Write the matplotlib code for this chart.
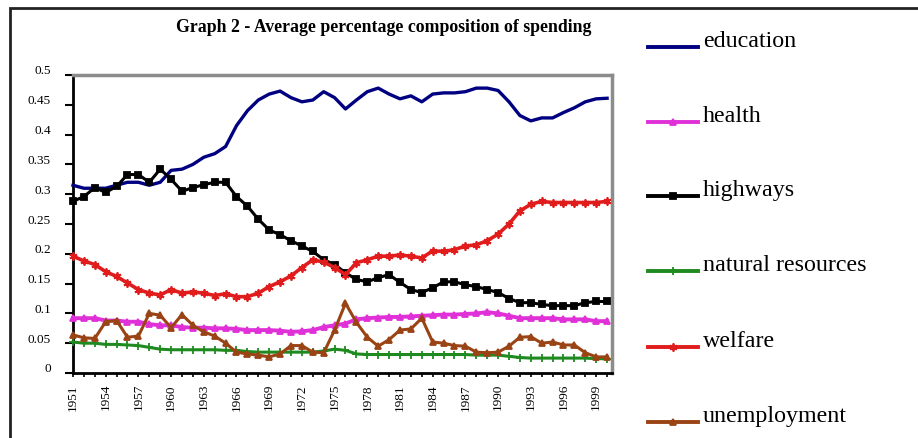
import matplotlib.pyplot as plt
from matplotlib.lines import Line2D
from matplotlib.patches import Rectangle
from matplotlib.transforms import ScaledTranslation

plt.rcParams['font.family'] = ['Liberation Serif', 'DejaVu Serif']

# share of spending by category, 1951-2000
years = list(range(1951, 2001))

education = [0.315, 0.31, 0.31, 0.31, 0.315, 0.32, 0.32, 0.315, 0.32, 0.34,
             0.342, 0.35, 0.362, 0.368, 0.38, 0.415, 0.44, 0.458, 0.468, 0.473,
             0.462, 0.455, 0.458, 0.472, 0.462, 0.443, 0.458, 0.472, 0.478, 0.468,
             0.46, 0.465, 0.455, 0.468, 0.47, 0.47, 0.472, 0.478, 0.478, 0.474,
             0.455, 0.432, 0.423, 0.428, 0.428, 0.437, 0.445, 0.455, 0.46, 0.461]

health = [0.092, 0.092, 0.092, 0.088, 0.088, 0.086, 0.086, 0.082, 0.08, 0.08,
          0.077, 0.076, 0.076, 0.075, 0.075, 0.074, 0.072, 0.072, 0.072, 0.071,
          0.069, 0.07, 0.072, 0.077, 0.08, 0.083, 0.09, 0.092, 0.093, 0.094,
          0.094, 0.095, 0.096, 0.097, 0.098, 0.098, 0.099, 0.1, 0.102, 0.1,
          0.096, 0.092, 0.092, 0.092, 0.092, 0.09, 0.09, 0.09, 0.087, 0.087]

highways = [0.288, 0.296, 0.311, 0.303, 0.313, 0.333, 0.333, 0.32, 0.342, 0.325,
            0.305, 0.311, 0.316, 0.32, 0.32, 0.296, 0.28, 0.258, 0.24, 0.232,
            0.222, 0.213, 0.204, 0.19, 0.182, 0.168, 0.157, 0.153, 0.16, 0.165,
            0.152, 0.14, 0.135, 0.143, 0.153, 0.153, 0.148, 0.145, 0.14, 0.135,
            0.125, 0.118, 0.118, 0.115, 0.113, 0.113, 0.113, 0.118, 0.12, 0.12]

natural_resources = [0.052, 0.05, 0.05, 0.048, 0.048, 0.047, 0.046, 0.043, 0.04, 0.039,
                     0.039, 0.039, 0.039, 0.039, 0.038, 0.038, 0.036, 0.035, 0.035, 0.035,
                     0.035, 0.035, 0.035, 0.037, 0.04, 0.038, 0.032, 0.031, 0.031, 0.031,
                     0.031, 0.031, 0.031, 0.031, 0.031, 0.031, 0.031, 0.03, 0.03, 0.03,
                     0.028, 0.026, 0.025, 0.025, 0.025, 0.025, 0.025, 0.025, 0.024, 0.024]

welfare = [0.196, 0.188, 0.182, 0.17, 0.162, 0.151, 0.14, 0.134, 0.131, 0.14,
           0.134, 0.136, 0.134, 0.13, 0.133, 0.128, 0.128, 0.134, 0.145, 0.153,
           0.163, 0.177, 0.19, 0.186, 0.177, 0.165, 0.185, 0.19, 0.196, 0.196,
           0.198, 0.196, 0.193, 0.205, 0.204, 0.207, 0.213, 0.215, 0.222, 0.233,
           0.25, 0.272, 0.283, 0.288, 0.286, 0.286, 0.286, 0.286, 0.286, 0.288]

unemployment = [0.064, 0.059, 0.058, 0.086, 0.088, 0.06, 0.062, 0.1, 0.097, 0.076,
                0.098, 0.08, 0.069, 0.062, 0.05, 0.035, 0.032, 0.03, 0.027, 0.032,
                0.046, 0.046, 0.035, 0.034, 0.072, 0.117, 0.085, 0.06, 0.045, 0.056,
                0.072, 0.074, 0.092, 0.052, 0.05, 0.046, 0.045, 0.035, 0.034, 0.035,
                0.045, 0.06, 0.061, 0.05, 0.052, 0.047, 0.047, 0.034, 0.027, 0.027]

labels = ["education", "health", "highways", "natural resources",
          "welfare", "unemployment"]
y_ticks = [0, 0.05, 0.1, 0.15, 0.2, 0.25, 0.3, 0.35, 0.4, 0.45, 0.5]
y_tick_labels = ["0", "0.05", "0.1", "0.15", "0.2", "0.25", "0.3",
                 "0.35", "0.4", "0.45", "0.5"]

# line styles for each series: colour, line width, marker, marker size
styles = [
    ("#000080", 2.4, None, 0),
    ("#e030d8", 2.8, "^", 4.2),
    ("#000000", 2.2, "s", 4.5),
    ("#1f8a1f", 2.2, "+", 5.5),
    ("#e01c1c", 2.6, (6, 2, 0), 5.8),
    ("#9a4416", 2.2, "^", 3.8),
]
series = [education, health, highways, natural_resources, welfare, unemployment]

W, H = 918, 438
fig = plt.figure(figsize=(W / 100, H / 100), dpi=100)
ax = fig.add_axes([73 / W, 1 - 373 / H, (612 - 73) / W, (373 - 75) / H])

for values, (color, lw, marker, ms) in zip(series, styles):
    ax.plot(years, values, color=color, lw=lw, marker=marker, ms=ms,
            mew=1.3, clip_on=False, zorder=3)

ax.set_xlim(1951, 2000.45)
ax.set_ylim(0, 0.5)

# year labels every third year, ticks every year
ax.set_xticks(years[::3])
ax.set_xticklabels([str(y) for y in years[::3]], rotation=90, fontsize=9.5)
ax.set_xticks(years, minor=True)
ax.tick_params(axis='x', which='both', direction='out', length=3, width=1.2, pad=5)

ax.set_yticks(y_ticks)
ax.set_yticklabels(y_tick_labels, fontsize=9.5)
ax.tick_params(axis='y', direction='out', length=6, width=1.5, pad=10)
shift = ScaledTranslation(0, 5 / 100, fig.dpi_scale_trans)
for lbl in ax.get_yticklabels():
    lbl.set_transform(lbl.get_transform() + shift)

ax.spines['left'].set_linewidth(2)
ax.spines['bottom'].set_linewidth(2)
for side in ['top', 'right']:
    ax.spines[side].set_color('#8c8c8c')
    ax.spines[side].set_linewidth(2.5)

# title and outer chart border
fig.text(384 / W, 1 - 27 / H, "Graph 2 - Average percentage composition of spending",
         ha='center', va='center', fontsize=12.8, fontweight='bold')
fig.add_artist(Rectangle((10 / W, -0.2), 1.2, 0.2 + (1 - 8 / H), transform=fig.transFigure,
                         fill=False, edgecolor='#222222', lw=2))

# legend drawn on the right, one entry per row
legend_y = [47, 122, 196, 271, 347, 422]
for name, (color, lw, marker, ms), py in zip(labels, styles, legend_y):
    fy = 1 - py / H
    fig.add_artist(Line2D([648 / W, 673 / W, 698 / W], [fy, fy, fy],
                          transform=fig.transFigure, color=color, lw=2.8,
                          marker=marker, ms=ms, mew=1.3, markevery=[1]))
    fig.text(703 / W, fy, name, ha='left', va='baseline', fontsize=17.3)

fig.savefig("out.png", dpi=100)
